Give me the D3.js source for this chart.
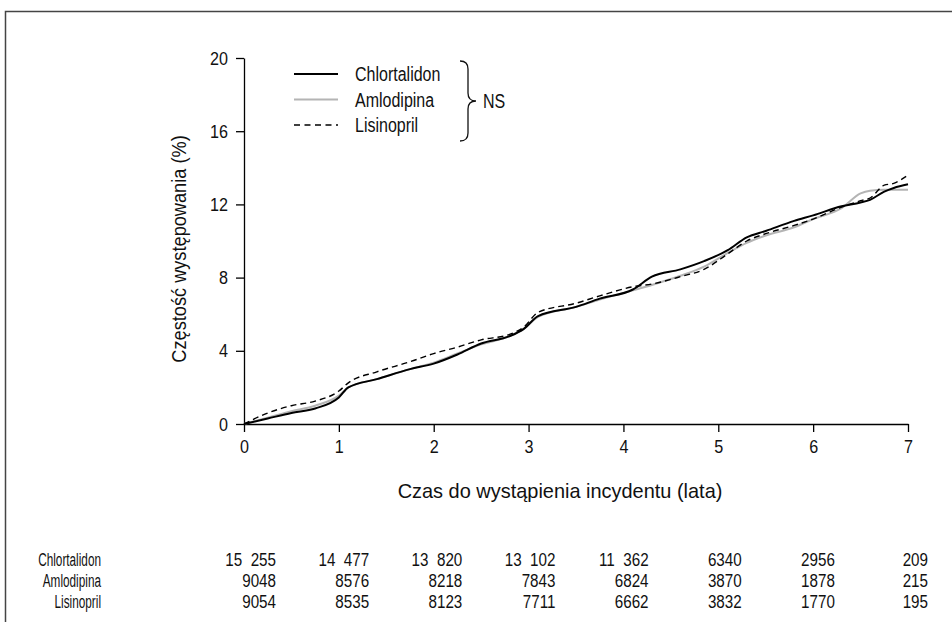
<!DOCTYPE html>
<html>
<head>
<meta charset="utf-8">
<script src="https://cdn.jsdelivr.net/npm/d3@7"></script>
<style>
  body { margin: 0; background: #fff; }
  text { font-family: "Liberation Sans", Arial, sans-serif; fill: #111; }
</style>
</head>
<body>
<svg id="chart"></svg>
<script>
// --- data ---
const times        = [0, 0.25, 0.5, 0.75, 1.0, 1.1, 1.4, 1.75, 2.0, 2.25, 2.5, 2.8, 2.95, 3.1, 3.5, 3.75, 4.1, 4.3, 4.6, 4.85, 5.1, 5.3, 5.5, 5.8, 6.0, 6.3, 6.5, 6.6, 6.75, 6.85, 7.0];
const chlortalidon = [0, 0.3, 0.6, 0.85, 1.45, 2.0, 2.45, 3.0, 3.3, 3.8, 4.4, 4.8, 5.2, 5.9, 6.4, 6.85, 7.35, 8.05, 8.45, 8.9, 9.5, 10.2, 10.55, 11.1, 11.4, 11.9, 12.1, 12.25, 12.7, 12.9, 13.1];
const amlodipina   = [0, 0.35, 0.7, 1.0, 1.55, 2.0, 2.45, 3.0, 3.35, 3.85, 4.35, 4.8, 5.2, 5.85, 6.4, 6.8, 7.3, 7.6, 8.1, 8.6, 9.35, 9.9, 10.3, 10.75, 11.2, 11.8, 12.6, 12.75, 12.8, 12.8, 12.8];
const lisinopril   = [0, 0.6, 1.0, 1.25, 1.8, 2.25, 2.85, 3.4, 3.85, 4.2, 4.6, 4.9, 5.3, 6.1, 6.6, 7.0, 7.5, 7.65, 8.05, 8.45, 9.3, 10.0, 10.4, 10.85, 11.2, 11.85, 12.2, 12.35, 13.05, 13.15, 13.6];

const seriesNames = ["Chlortalidon", "Amlodipina", "Lisinopril"];
const xTicks = [0, 1, 2, 3, 4, 5, 6, 7];
const yTicks = [0, 4, 8, 12, 16, 20];

// numbers at risk, one column per year (figure space as thousands separator)
const atRiskChlortalidon = ["15\u2007255", "14\u2007477", "13\u2007820", "13\u2007102", "11\u2007362", "6340", "2956", "209"];
const atRiskAmlodipina   = ["9048", "8576", "8218", "7843", "6824", "3870", "1878", "215"];
const atRiskLisinopril   = ["9054", "8535", "8123", "7711", "6662", "3832", "1770", "195"];

// --- setup ---
const width = 952;
const height = 622;
const marginLeft = 244;
const marginRight = 44;
const marginTop = 58;
const plotBottom = 424;

const svg = d3.select("#chart")
    .attr("width", width)
    .attr("height", height);

// the original uses a condensed face, so squeeze text horizontally
function condense(sel, k) {
    sel.each(function() {
        const t = d3.select(this);
        const tx = +t.attr("x") || 0;
        const ty = +t.attr("y") || 0;
        t.attr("x", 0).attr("y", 0)
         .attr("transform", `translate(${tx},${ty}) scale(${k},1)`);
    });
}

// outer frame (only left and top edges are visible)
svg.append("path")
    .attr("d", `M5.5,${height} V11.5 H${width}`)
    .attr("fill", "none")
    .attr("stroke", "#444")
    .attr("stroke-width", 1.5);

const x = d3.scaleLinear().domain([0, 7]).range([marginLeft, width - marginRight]);
const y = d3.scaleLinear().domain([0, 20]).range([plotBottom, marginTop]);

// --- axes ---
svg.append("g")
    .attr("transform", `translate(0,${plotBottom})`)
    .call(d3.axisBottom(x).tickValues(xTicks).tickFormat(d3.format("d")).tickSize(8).tickPadding(7).tickSizeOuter(0))
    .call(g => g.select(".domain").attr("stroke-width", 1.3))
    .call(g => g.selectAll(".tick line").attr("stroke-width", 1.3))
    .call(g => g.selectAll(".tick text").attr("font-size", 19).attr("font-family", null).call(condense, 0.85));

svg.append("g")
    .attr("transform", `translate(${marginLeft},0)`)
    .call(d3.axisLeft(y).tickValues(yTicks).tickFormat(d3.format("d")).tickSize(8).tickPadding(8).tickSizeOuter(0))
    .call(g => g.select(".domain").attr("stroke-width", 1.3))
    .call(g => g.selectAll(".tick line").attr("stroke-width", 1.3))
    .call(g => g.selectAll(".tick text").attr("font-size", 19).attr("font-family", null).call(condense, 0.85));

// axis titles
svg.append("text")
    .attr("x", 560)
    .attr("y", 498)
    .attr("text-anchor", "middle")
    .attr("font-size", 21)
    .text("Czas do wystąpienia incydentu (lata)")
    .call(condense, 0.95);

svg.append("text")
    .attr("transform", `translate(186,249) rotate(-90) scale(0.91,1)`)
    .attr("text-anchor", "middle")
    .attr("font-size", 20)
    .text("Częstość występowania (%)");

// --- lines ---
const line = d3.line()
    .x((d, i) => x(times[i]))
    .y(d => y(d))
    .curve(d3.curveMonotoneX);

svg.append("path")
    .datum(amlodipina)
    .attr("d", line)
    .attr("fill", "none")
    .attr("stroke", "#b4b4b4")
    .attr("stroke-width", 2);

svg.append("path")
    .datum(chlortalidon)
    .attr("d", line)
    .attr("fill", "none")
    .attr("stroke", "#000")
    .attr("stroke-width", 2);

svg.append("path")
    .datum(lisinopril)
    .attr("d", line)
    .attr("fill", "none")
    .attr("stroke", "#000")
    .attr("stroke-width", 1.4)
    .attr("stroke-dasharray", "6,4");

// --- legend ---
const legendStyles = [
    { stroke: "#000", width: 2, dash: null },
    { stroke: "#b4b4b4", width: 2, dash: null },
    { stroke: "#000", width: 1.4, dash: "6,4.5" }
];
const legend = svg.append("g");
seriesNames.forEach((name, i) => {
    const ly = 74 + i * 25.5;
    legend.append("line")
        .attr("x1", 294).attr("x2", 338)
        .attr("y1", ly).attr("y2", ly)
        .attr("stroke", legendStyles[i].stroke)
        .attr("stroke-width", legendStyles[i].width)
        .attr("stroke-dasharray", legendStyles[i].dash);
    legend.append("text")
        .attr("x", 355)
        .attr("y", ly + 7)
        .attr("font-size", 20)
        .text(name)
        .call(condense, 0.8);
});

// curly brace + NS
legend.append("path")
    .attr("d", "M460,61 Q468,61 468,69 L468,93 Q468,101 476,101 Q468,101 468,109 L468,133 Q468,141 460,141")
    .attr("fill", "none")
    .attr("stroke", "#111")
    .attr("stroke-width", 1.3);
legend.append("text")
    .attr("x", 483)
    .attr("y", 108)
    .attr("font-size", 20)
    .text("NS")
    .call(condense, 0.8);

// --- numbers at risk table ---
const atRisk = [atRiskChlortalidon, atRiskAmlodipina, atRiskLisinopril];
const colRight = x.copy().range([276, 928]);
atRisk.forEach((row, r) => {
    const ry = 566 + r * 21;
    svg.append("text")
        .attr("x", 101)
        .attr("y", ry)
        .attr("text-anchor", "end")
        .attr("font-size", 19)
        .text(seriesNames[r])
        .call(condense, 0.62);
    svg.append("g")
      .selectAll("text")
      .data(row)
      .join("text")
        .attr("x", (d, i) => colRight(xTicks[i]))
        .attr("y", ry)
        .attr("text-anchor", "end")
        .attr("font-size", 19)
        .text(d => d)
        .call(condense, 0.8);
});
</script>
</body>
</html>
